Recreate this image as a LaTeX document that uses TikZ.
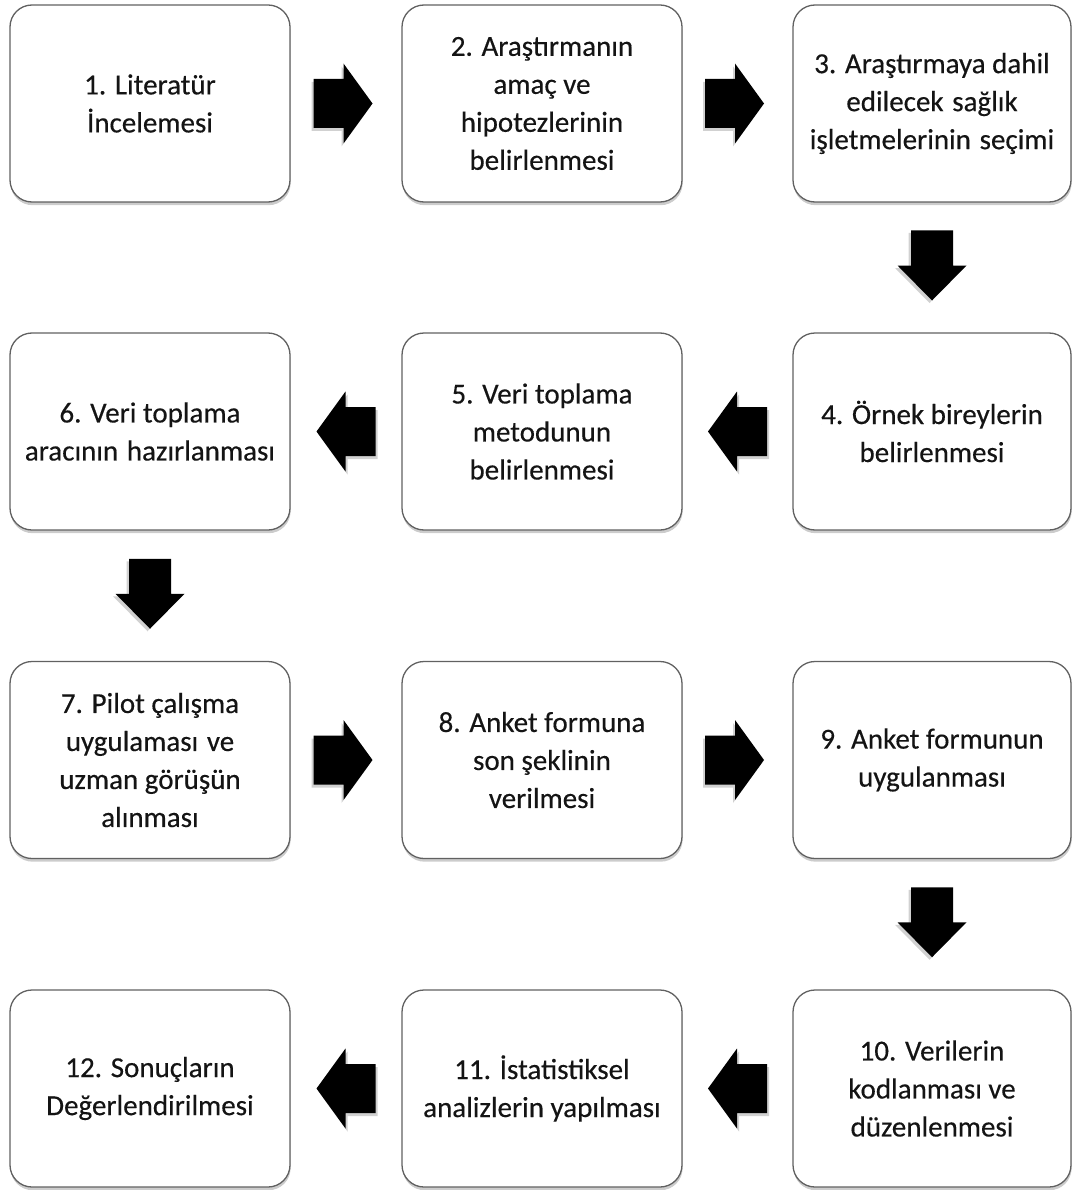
\documentclass[tikz,border=0pt]{standalone}
\usepackage{fontspec}
\setmainfont[FakeBold=0.35]{Carlito}
\usetikzlibrary{calc,shadows}

% a slightly widened word space, as used in a few step labels
\newcommand{\wsp}{\hspace{0.3em}}

\begin{document}
\begin{tikzpicture}[x=1pt,y=1pt,
  stepbox/.style={
    draw=black!62, line width=1.3pt, fill=white,
    rounded corners=22pt,
    minimum width=280pt, minimum height=197pt,
    inner sep=4pt, align=center, text=black!92,
    font=\fontsize{29}{38}\selectfont,
    drop shadow={shadow xshift=0.6pt, shadow yshift=-3.2pt,
                 fill=black!40, opacity=0.5}},
  harrow/.pic={
    % right-pointing block arrow, centred on the pic origin
    \fill[black!30, opacity=0.6, shift={(-2,-3)}]
      (-29.5,-24.5) -- (0.5,-24.5) -- (0.5,-40) -- (29.5,0)
      -- (0.5,40) -- (0.5,24.5) -- (-29.5,24.5) -- cycle;
    \fill[black]
      (-29.5,-24.5) -- (0.5,-24.5) -- (0.5,-40) -- (29.5,0)
      -- (0.5,40) -- (0.5,24.5) -- (-29.5,24.5) -- cycle;
  },
  varrow/.pic={
    % down-pointing block arrow, centred on the pic origin
    \fill[black!30, opacity=0.6, shift={(-2.5,-2.5)}]
      (-21,35) -- (21,35) -- (21,0) -- (34.5,0) -- (0,-35)
      -- (-34.5,0) -- (-21,0) -- cycle;
    \fill[black]
      (-21,35) -- (21,35) -- (21,0) -- (34.5,0) -- (0,-35)
      -- (-34.5,0) -- (-21,0) -- cycle;
  }]

\useasboundingbox (0,0) rectangle (1072,-1190);

% row 1
\node[stepbox] (b1) at (150,-103.5) {1. Literatür\\İncelemesi};
\node[stepbox] (b2) at (542,-103.5) {2. Araştırmanın\\amaç ve\\hipotezlerinin\\belirlenmesi};
\node[stepbox, minimum width=278pt] (b3) at (932,-103.5) {3. Araştırmaya dahil\\edilecek\wsp sağlık\\işletmelerinin\wsp seçimi};

% row 2
\node[stepbox, minimum width=278pt] (b4) at (932,-431.5) {4. Örnek bireylerin\\belirlenmesi};
\node[stepbox] (b5) at (542,-431.5) {5. Veri toplama\\metodunun\\belirlenmesi};
\node[stepbox] (b6) at (150,-431.5) {6. Veri toplama\\aracının\wsp hazırlanması};

% row 3
\node[stepbox] (b7) at (150,-760) {7. Pilot çalışma\\uygulaması\wsp ve\\uzman görüşün\\alınması};
\node[stepbox] (b8) at (542,-760) {8. Anket formuna\\son şeklinin\\verilmesi};
\node[stepbox, minimum width=278pt] (b9) at (932,-760) {9. Anket formunun\\uygulanması};

% row 4
\node[stepbox, minimum width=278pt] (b10) at (932,-1088.5) {10. Verilerin\\kodlanması ve\\düzenlenmesi};
\node[stepbox] (b11) at (542,-1088.5) {11. İstatistiksel\\analizlerin yapılması};
\node[stepbox] (b12) at (150,-1088.5) {12. Sonuçların\\Değerlendirilmesi};

% flow arrows between the steps
\pic at ($(b1.east)!0.5!(b2.west)+(-3,0)$) {harrow};
\pic at ($(b2.east)!0.5!(b3.west)+(-3,0)$) {harrow};
\pic at ($(b3.south)!0.5!(b4.north)+(0,2)$) {varrow};
\pic[xscale=-1] at ($(b4.west)!0.5!(b5.east)$) {harrow};
\pic[xscale=-1] at ($(b5.west)!0.5!(b6.east)$) {harrow};
\pic at ($(b6.south)!0.5!(b7.north)+(0,2)$) {varrow};
\pic at ($(b7.east)!0.5!(b8.west)+(-3,0)$) {harrow};
\pic at ($(b8.east)!0.5!(b9.west)+(-3,0)$) {harrow};
\pic at ($(b9.south)!0.5!(b10.north)+(0,2)$) {varrow};
\pic[xscale=-1] at ($(b10.west)!0.5!(b11.east)$) {harrow};
\pic[xscale=-1] at ($(b11.west)!0.5!(b12.east)$) {harrow};
\end{tikzpicture}
\end{document}
